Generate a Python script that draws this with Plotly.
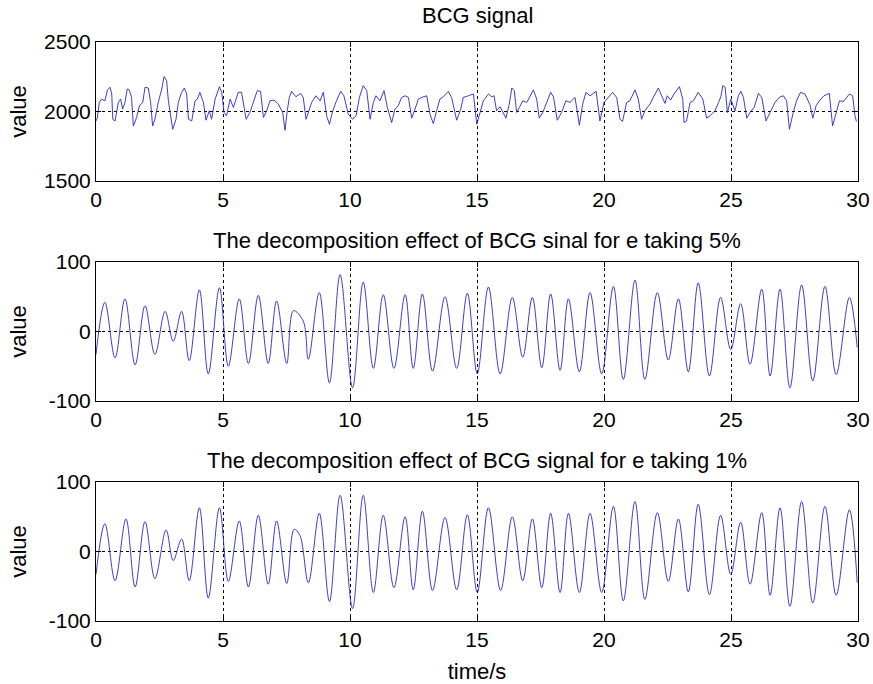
import plotly.graph_objects as go
from plotly.subplots import make_subplots

# BCG signal (time in s, raw value)
bcg_t = [0.00, 0.05, 0.13, 0.22, 0.35, 0.45, 0.55, 0.62, 0.66, 0.75, 0.88, 0.97, 1.05, 1.14, 1.23, 1.31,
         1.40, 1.47, 1.60, 1.71, 1.84, 1.93, 2.06, 2.15, 2.23, 2.32, 2.45, 2.59, 2.68, 2.78, 2.85, 2.94,
         3.02, 3.15, 3.24, 3.37, 3.48, 3.57, 3.64, 3.77, 3.90, 3.99, 4.09, 4.23, 4.33, 4.46, 4.55, 4.69,
         4.86, 4.95, 5.04, 5.14, 5.28, 5.41, 5.60, 5.73, 5.80, 5.91, 6.06, 6.19, 6.35, 6.48, 6.59, 6.72,
         6.85, 7.01, 7.18, 7.35, 7.44, 7.53, 7.61, 7.70, 7.87, 8.06, 8.16, 8.27, 8.36, 8.49, 8.66, 8.82,
         8.95, 9.08, 9.19, 9.32, 9.47, 9.63, 9.76, 9.93, 10.10, 10.24, 10.37, 10.52, 10.66, 10.79, 10.92,
         11.02, 11.18, 11.34, 11.47, 11.64, 11.77, 11.90, 12.03, 12.17, 12.30, 12.43, 12.56, 12.69, 12.82,
         13.02, 13.15, 13.28, 13.41, 13.54, 13.67, 13.87, 14.00, 14.20, 14.36, 14.46, 14.66, 14.86, 14.99,
         15.09, 15.25, 15.45, 15.58, 15.67, 15.77, 15.91, 16.01, 16.14, 16.27, 16.37, 16.47, 16.56, 16.67,
         16.80, 16.96, 17.09, 17.22, 17.35, 17.45, 17.59, 17.74, 17.90, 18.01, 18.16, 18.33, 18.50, 18.66,
         18.86, 19.03, 19.16, 19.29, 19.45, 19.69, 19.84, 20.00, 20.17, 20.34, 20.50, 20.63, 20.73, 20.89,
         21.02, 21.22, 21.35, 21.48, 21.61, 21.81, 21.94, 22.14, 22.27, 22.40, 22.49, 22.62, 22.76, 22.97,
         23.10, 23.15, 23.25, 23.39, 23.52, 23.71, 23.89, 24.04, 24.17, 24.37, 24.51, 24.60, 24.68, 24.77,
         24.86, 24.99, 25.16, 25.29, 25.39, 25.49, 25.62, 25.75, 25.91, 26.08, 26.21, 26.38, 26.54, 26.73,
         26.90, 27.06, 27.19, 27.30, 27.45, 27.59, 27.74, 27.91, 28.11, 28.22, 28.35, 28.48, 28.66, 28.87,
         29.00, 29.13, 29.27, 29.43, 29.66, 29.79, 29.88, 29.94]
bcg_v = [1932, 1952, 2065, 2089, 2077, 2155, 2174, 2126, 1944, 1932, 2065, 2089, 2017, 2065, 2162, 2155,
         2101, 1896, 1957, 2041, 2065, 2174, 2169, 2065, 1896, 1944, 2065, 2162, 2251, 2222, 2077, 1952,
         1872, 1944, 2065, 2138, 2169, 2126, 1944, 1932, 2077, 2089, 2138, 2065, 1937, 2005, 1944, 2089,
         2179, 2138, 1993, 1969, 2089, 2029, 2138, 2138, 2053, 1944, 1993, 2065, 2150, 2145, 1957, 2005,
         2077, 2082, 2053, 1993, 1865, 2005, 2101, 2145, 2106, 2130, 2101, 1944, 1993, 2065, 2113, 2077,
         2138, 1969, 1908, 2005, 2077, 2145, 2113, 1981, 1944, 1969, 2101, 2186, 2150, 1944, 2065,
         2113, 2077, 2150, 2029, 1920, 2017, 2041, 2101, 2113, 2101, 1952, 2017, 2089, 2101,
         2113, 1981, 1913, 2005, 2089, 2106, 2145, 2101, 1937, 2017, 2101, 2113, 2126, 1908,
         1969, 2077, 2126, 2106, 2113, 2005, 2034, 1993, 1952, 2053, 2169, 2150, 1993, 2029,
         2077, 2065, 2113, 2155, 2089, 1952, 1993, 2065, 2138, 2106, 1937, 1993, 2077, 2065,
         2101, 1901, 2053, 2138, 2113, 2145, 1932, 2065, 2101, 2138, 2101, 1944, 1928, 2065,
         2077, 2155, 2089, 1944, 2005, 2053, 2101, 2169, 2113, 2058, 2113, 2082, 2126, 2179,
         2089, 1920, 1932, 2065, 2077, 2138, 2089, 1952, 1969, 2005, 2065, 2106, 2186, 2174,
         1993, 2089, 2005, 2113, 2145, 2101, 1952, 1993, 2029, 2130, 2101, 1932, 1993, 2065,
         2101, 2113, 2077, 1872, 1993, 2082, 2138, 2126, 2048, 1952, 2041, 2077, 2113, 2130,
         1896, 1993, 2077, 2072, 2126, 2113, 1969, 1928]

# decomposition, e = 5% (turning points)
e5_t = [0.00, 0.35, 0.75, 1.14, 1.54, 1.93, 2.32, 2.72, 3.04, 3.37, 3.67, 4.07, 4.42, 4.86, 5.21, 5.64,
        6.00, 6.39, 6.78, 7.11, 7.51, 7.77, 8.16, 8.36, 8.79, 9.19, 9.61, 10.10, 10.52, 10.92, 11.31,
        11.73, 12.17, 12.49, 12.85, 13.25, 13.74, 14.20, 14.62, 15.01, 15.45, 15.91, 16.39, 16.80, 17.18,
        17.55, 17.90, 18.27, 18.60, 19.03, 19.45, 19.91, 20.37, 20.76, 21.22, 21.61, 22.10, 22.53, 22.93,
        23.32, 23.71, 24.15, 24.59, 24.99, 25.38, 25.75, 26.21, 26.54, 26.93, 27.32, 27.78, 28.22, 28.70,
        29.14, 29.66, 29.97]
e5_v = [-33, 42, -38, 47, -48, 37, -33, 29, -14, 29, -42, 60, -61, 63, -50, 47,
        -46, 52, -46, 44, -46, 30, 15, -40, 56, -74, 82, -81, 71, -53, 53,
        -53, 53, -53, 54, -57, 50, -53, 55, -61, 64, -61, 49, -37, 49,
        -52, 54, -56, 47, -58, 56, -61, 65, -69, 74, -69, 56, -41, 47,
        -58, 70, -64, 49, -26, 40, -47, 61, -64, 61, -81, 67, -71, 65,
        -62, 49, -23]

# decomposition, e = 1% (turning points)
e1_t = [0.00, 0.35, 0.75, 1.18, 1.54, 1.93, 2.32, 2.76, 3.04, 3.37, 3.67, 4.07, 4.42, 4.86, 5.21, 5.64,
        6.00, 6.39, 6.78, 7.11, 7.51, 7.80, 8.03, 8.36, 8.79, 9.19, 9.61, 10.10, 10.52, 10.92, 11.31,
        11.73, 12.17, 12.49, 12.85, 13.25, 13.74, 14.20, 14.62, 15.01, 15.45, 15.93, 16.39, 16.80, 17.18,
        17.55, 17.90, 18.27, 18.60, 19.03, 19.45, 19.91, 20.37, 20.76, 21.22, 21.61, 22.10, 22.53, 22.93,
        23.32, 23.71, 24.15, 24.59, 24.99, 25.38, 25.75, 26.21, 26.54, 26.93, 27.32, 27.78, 28.22, 28.70,
        29.14, 29.66, 29.97]
e1_v = [-33, 40, -42, 47, -51, 43, -39, 31, -13, 18, -42, 63, -67, 63, -43, 44,
        -51, 52, -47, 44, -46, 32, 23, -45, 55, -72, 81, -82, 81, -59, 52,
        -52, 50, -55, 58, -56, 49, -55, 53, -59, 63, -56, 50, -42, 47,
        -52, 55, -59, 55, -59, 55, -59, 65, -71, 72, -69, 56, -43, 47,
        -58, 68, -62, 52, -33, 42, -47, 56, -63, 63, -79, 72, -74, 65,
        -63, 60, -45]

x_ticks = [0, 5, 10, 15, 20, 25, 30]
bcg_ticks = [1500, 2000, 2500]
dec_ticks = [-100, 0, 100]

titles = ["BCG signal",
          "The decomposition effect of BCG sinal for e taking 5%",
          "The decomposition effect of BCG signal for e taking 1%"]

FONT = "Liberation Sans, Arial, sans-serif"
LINE = "rgb(40,40,205)"

fig = make_subplots(rows=3, cols=1, vertical_spacing=0.14)

fig.add_trace(go.Scatter(x=bcg_t, y=bcg_v, mode="lines",
                         line=dict(color=LINE, width=0.9)), row=1, col=1)
fig.add_trace(go.Scatter(x=e5_t, y=e5_v, mode="lines",
                         line=dict(color=LINE, width=0.9, shape="spline")), row=2, col=1)
fig.add_trace(go.Scatter(x=e1_t, y=e1_v, mode="lines",
                         line=dict(color=LINE, width=0.9, shape="spline")), row=3, col=1)

axis_style = dict(showline=True, linecolor="black", linewidth=1, mirror="ticks",
                  ticks="inside", ticklen=5, tickcolor="black", automargin=False,
                  showgrid=True, gridcolor="black", griddash="dot", gridwidth=1,
                  zeroline=False, tickfont=dict(family=FONT, size=21, color="black"))

for r in range(1, 4):
    fig.update_xaxes(range=[0, 30], tickvals=x_ticks, **axis_style, row=r, col=1)

fig.update_yaxes(range=[1500, 2500], tickvals=bcg_ticks, **axis_style, row=1, col=1)
for r in (2, 3):
    fig.update_yaxes(range=[-100, 100], tickvals=dec_ticks,
                     ticktext=[str(v) for v in dec_ticks], **axis_style, row=r, col=1)

fig.update_xaxes(title_text="time/s", title_font=dict(family=FONT, size=22, color="black"),
                 title_standoff=13, row=3, col=1)

tops = [1.0, 0.62, 0.24]
shifts = [12, 7, 7]
for txt, y0, s in zip(titles, tops, shifts):
    fig.add_annotation(text=txt, x=0.5, y=y0, xref="paper", yref="paper",
                       xanchor="center", yanchor="bottom", yshift=s, showarrow=False,
                       font=dict(family=FONT, size=22, color="black"))
    # y-axis label, same position for every panel (as in the original)
    fig.add_annotation(text="value", x=-0.102, y=y0 - 0.12, xref="paper", yref="paper",
                       xanchor="center", yanchor="middle", textangle=-90, showarrow=False,
                       font=dict(family=FONT, size=22, color="black"))

fig.update_layout(width=873, height=684, showlegend=False,
                  paper_bgcolor="white", plot_bgcolor="white",
                  margin=dict(l=96, r=15, t=42, b=63))

# drop the default page margin so the figure fills the window exactly
fig.write_html("out.html", config={"displayModeBar": False},
               post_script="document.body.style.margin='0';document.body.style.overflow='hidden';")
